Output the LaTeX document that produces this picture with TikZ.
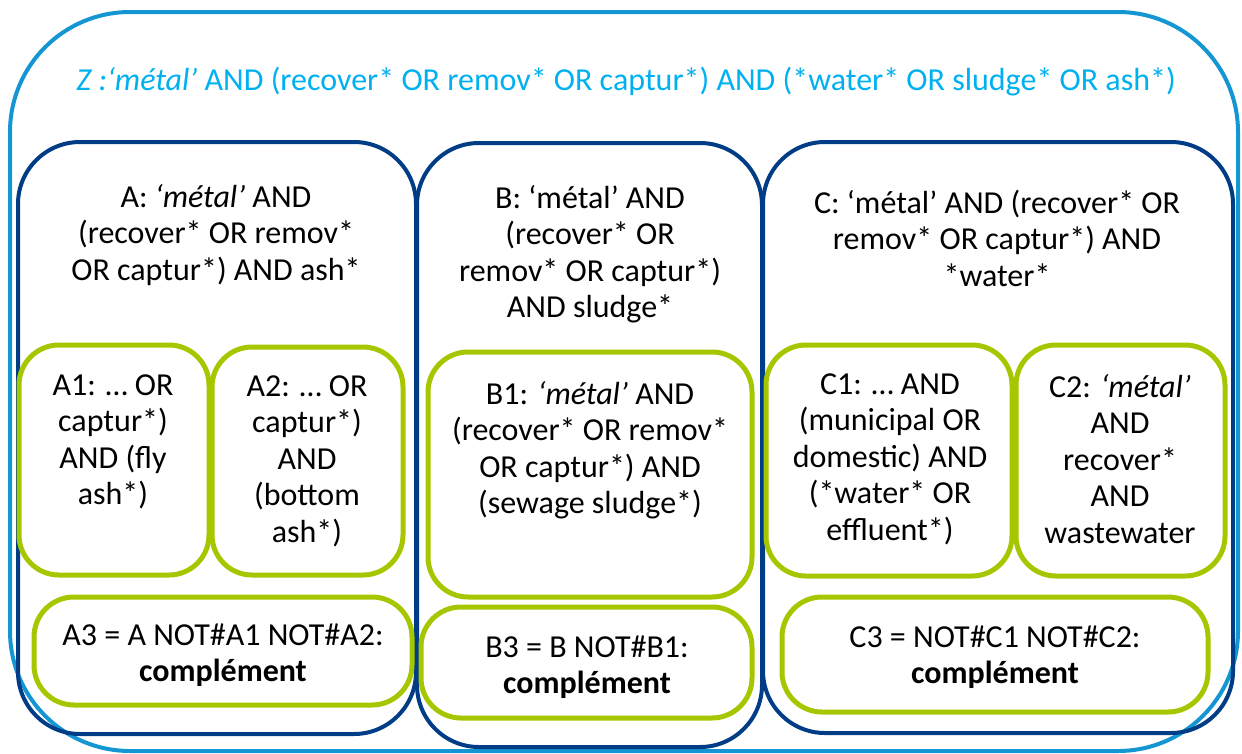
\documentclass[tikz,border=0pt]{standalone}
\usepackage{fontspec}
\setmainfont{Carlito}
\usetikzlibrary{positioning}
\definecolor{zcolor}{RGB}{0,176,240}
\definecolor{outercolor}{RGB}{20,150,210}
\definecolor{groupcolor}{RGB}{0,61,134}
\definecolor{subcolor}{RGB}{166,198,0}

\begin{document}
\begin{tikzpicture}[x=1pt, y=-1pt,
    zbox/.style={draw=outercolor, line width=4pt, rounded corners=120pt},
    groupbox/.style={draw=groupcolor, line width=4pt, rounded corners=62pt},
    subbox/.style={draw=subcolor, line width=5pt, rounded corners=40pt},
    qtext/.style={align=center, inner sep=0pt, font=\fontsize{32}{36.5}\selectfont}]
  \useasboundingbox (0,0) rectangle (1242,753);

  % Outer query Z
  \draw[zbox] (10,12) rectangle (1238,751);
  \node[qtext, text=zcolor] (ztitle) at (626,82)
    {\textit{Z :‘métal’} AND (recover* OR remov* OR captur*) AND (*water* OR sludge* OR ash*)};

  % Groups A, B, C
  \draw[groupbox] (18,142) rectangle (416,734);
  \draw[groupbox] (417,143) rectangle (762,747);
  \draw[groupbox] (763,142) rectangle (1233,733);

  % Sub-queries
  \draw[subbox] (19,345) rectangle (209,575);
  \draw[subbox] (212,347) rectangle (403,575);
  \draw[subbox] (34,597) rectangle (412,705);
  \draw[subbox] (428,352) rectangle (752,597);
  \draw[subbox] (421,607) rectangle (752,718);
  \draw[subbox] (766,345) rectangle (1012,576);
  \draw[subbox] (1016,345) rectangle (1225,576);
  \draw[subbox] (782,597) rectangle (1208,712);

  % Texts of the groups
  \node[qtext] (atext) at (216,235) {A: \textit{‘métal’} AND\\(recover* OR remov*\\OR captur*) AND ash*};
  \node[qtext] (btext) at (590,254) {B: ‘métal’ AND\\(recover* OR\\remov* OR captur*)\\AND sludge*};
  \node[qtext] (ctext) at (997,238) {C: ‘métal’ AND (recover* OR\\remov* OR captur*) AND\\*water*};

  % Texts of the sub-queries
  \node[qtext] (a1text) at (113,442) {A1: … OR\\captur*)\\AND (fly\\ash*)};
  \node[qtext] (a2text) at (307,461) {A2: … OR\\captur*)\\AND\\(bottom\\ash*)};
  \node[qtext] (b1text) at (590,450) {B1: \textit{‘métal’} AND\\(recover* OR remov*\\OR captur*) AND\\(sewage sludge*)};
  \node[qtext] (c1text) at (890,459) {C1: … AND\\(municipal OR\\domestic) AND\\(*water* OR\\effluent*)};
  \node[qtext] (c2text) at (1120,459) {C2: \textit{‘métal’}\\AND\\recover*\\AND\\wastewater};
  \node[qtext] (a3text) at (223,655) {A3 = A NOT\#A1 NOT\#A2:\\\textbf{complément}};
  \node[qtext] (b3text) at (587,667) {B3 = B NOT\#B1:\\\textbf{complément}};
  \node[qtext] (c3text) at (995,657) {C3 = NOT\#C1 NOT\#C2:\\\textbf{complément}};
\end{tikzpicture}
\end{document}
